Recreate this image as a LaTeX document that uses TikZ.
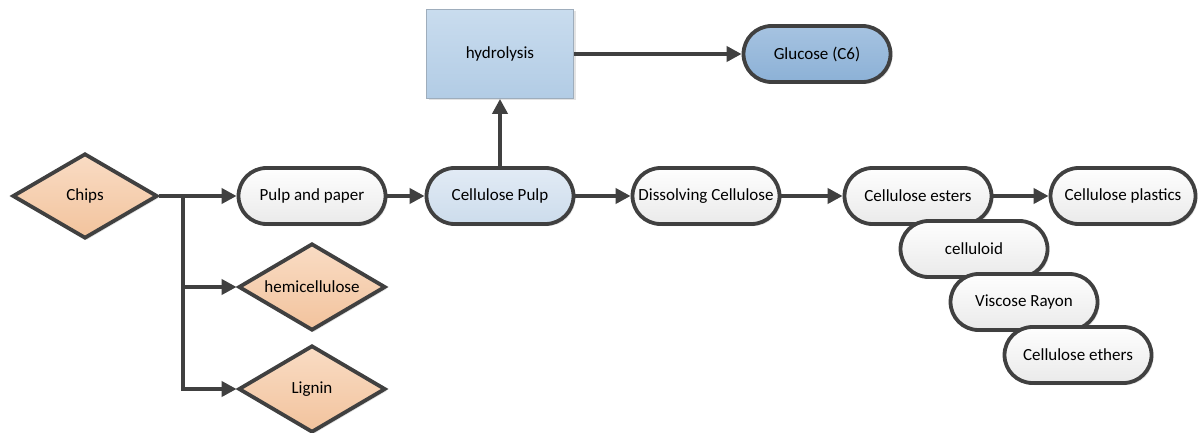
\documentclass[tikz,border=0pt]{standalone}
\usepackage{fontspec}
\setmainfont{Carlito}
\usetikzlibrary{shapes.geometric,shadows,arrows.meta}
\definecolor{edge}{HTML}{404040}
\definecolor{pilltop}{HTML}{FEFEFE}
\definecolor{pillbot}{HTML}{EAEAEA}
\definecolor{peachtop}{HTML}{F9DCC4}
\definecolor{peachbot}{HTML}{F2C39D}
\definecolor{hydtop}{HTML}{C9DCEE}
\definecolor{hydbot}{HTML}{B2CCE5}
\definecolor{glutop}{HTML}{A6C3E1}
\definecolor{glubot}{HTML}{8CB1D6}
\definecolor{cptop}{HTML}{E2EBF5}
\definecolor{cpbot}{HTML}{CCDCEC}
\tikzset{
  lbl/.style={font=\fontsize{17}{20}\selectfont, text=black},
  shad/.style={drop shadow={opacity=0.22, shadow xshift=2pt, shadow yshift=-2pt}},
  pill/.style={lbl, shad, draw=edge, line width=3.8pt, rounded corners=28pt,
    minimum width=147pt, minimum height=56pt, inner sep=0pt,
    top color=pilltop, bottom color=pillbot},
  diam/.style={lbl, shad, diamond, draw=edge, line width=3.8pt, inner sep=0pt,
    minimum width=145pt, minimum height=85pt, top color=peachtop, bottom color=peachbot},
  procbox/.style={lbl, shad, draw=hydbot!60!gray, line width=0.8pt, minimum width=147pt,
    minimum height=89pt, inner sep=0pt, top color=hydtop, bottom color=hydbot},
  conn/.style={draw=edge, line width=3.8pt, -{Triangle[length=15pt,width=15pt]}}
}
\begin{document}
\begin{tikzpicture}[x=1pt,y=-1pt]
\useasboundingbox (0,0) rectangle (1201,433);
\clip (0,0) rectangle (1201,433);
\fill[white] (0,0) rectangle (1201,433);

\node[diam] (chips) at (85,196) {\makebox[0pt]{Chips}};
\node[diam, minimum width=147pt, minimum height=87pt] (hemi) at (312,287) {\makebox[0pt]{hemicellulose}};
\node[diam, minimum width=147pt, minimum height=87pt] (lignin) at (312,389) {\makebox[0pt]{Lignin}};

\node[pill] (pulp) at (312,196) {Pulp and paper};
\node[pill, top color=cptop, bottom color=cpbot] (cpulp) at (500,196) {Cellulose Pulp};
\node[procbox] (hydro) at (500,54) {hydrolysis};
\node[pill, top color=glutop, bottom color=glubot] (glucose) at (817,54) {Glucose (C6)};
\node[pill] (diss) at (706,196) {Dissolving Cellulose};
\node[pill] (esters) at (918,196) {Cellulose esters};
\node[pill, minimum width=145pt] (plastics) at (1123,196) {Cellulose plastics};
\node[pill] (celluloid) at (974,249) {celluloid};
\node[pill] (viscose) at (1024,302) {Viscose Rayon};
\node[pill] (ethers) at (1078,355) {Cellulose ethers};

\coordinate (br) at (183,196);
\draw[conn] (chips.east) -- (pulp.west);
\draw[conn] (br) |- (hemi.west);
\draw[conn] (br) |- (lignin.west);
\draw[conn] (pulp.east) -- (cpulp.west);
\draw[conn] (cpulp.north) -- (hydro.south);
\draw[conn] (hydro.east) -- (glucose.west);
\draw[conn] (cpulp.east) -- (diss.west);
\draw[conn] (diss.east) -- (esters.west);
\draw[conn] (esters.east) -- (plastics.west);
\end{tikzpicture}
\end{document}
